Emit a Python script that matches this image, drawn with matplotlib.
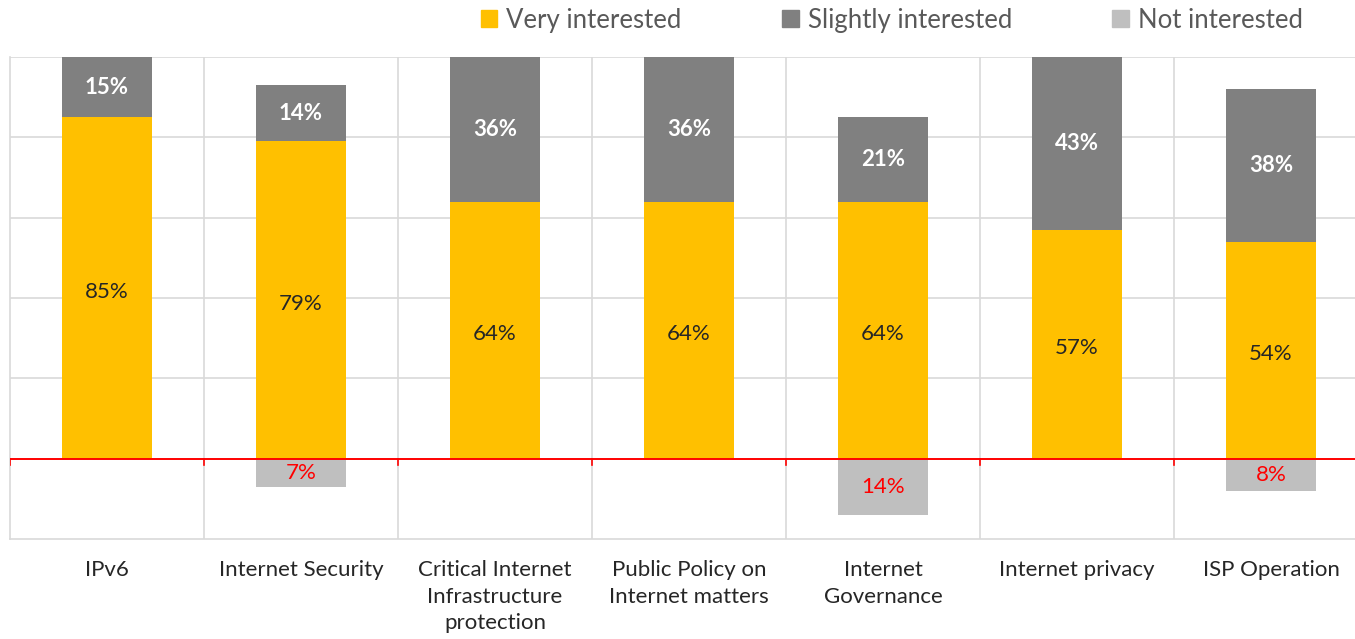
import numpy as np
import matplotlib.pyplot as plt
from matplotlib.patches import Patch

plt.rcParams['font.family'] = ['Lato', 'DejaVu Sans']

categories = ["IPv6", "Internet Security", "Critical Internet\nInfrastructure\nprotection",
              "Public Policy on\nInternet matters", "Internet\nGovernance",
              "Internet privacy", "ISP Operation"]
very = [85, 79, 64, 64, 64, 57, 54]
slightly = [15, 14, 36, 36, 21, 43, 38]
not_int = [0, 7, 0, 0, 14, 0, 8]

YELLOW = "#FFC000"
DARK = "#808080"
LIGHT = "#BFBFBF"
GRID = "#D9D9D9"

fig = plt.figure(figsize=(13.55, 6.39), dpi=100)
W, H = 1355, 639
ax = fig.add_axes([10 / W, (H - 539) / H, (W - 10) / W, (539 - 57) / H])

x = np.arange(len(categories))
width = 0.46
ax.bar(x, very, width, color=YELLOW, zorder=3)
ax.bar(x, slightly, width, bottom=very, color=DARK, zorder=3)
ax.bar(x, [-v for v in not_int], width, color=LIGHT, zorder=3)

for i in range(len(categories)):
    ax.text(x[i], very[i] / 2 - 1, f"{very[i]}%", ha="center", va="center",
            fontsize=16, color="#262626", zorder=4)
    ax.text(x[i], very[i] + slightly[i] / 2, f"{slightly[i]}%", ha="center",
            va="center", fontsize=16, color="white", fontweight="bold", zorder=4)
    if not_int[i]:
        ax.text(x[i], -not_int[i] / 2, f"{not_int[i]}%", ha="center",
                va="center", fontsize=16, color="#FF0000", zorder=4)

# 100 at the top, -20 at the bottom, last column cut by the right edge
ax.set_ylim(-20, 100)
ax.set_xlim(-0.5, 6.5 - 13 / 194)
for y in [20, 40, 60, 80, 100]:
    ax.axhline(y, color=GRID, lw=1.2, zorder=1)
for b in np.arange(0.5, 7, 1.0):
    ax.axvline(b, color=GRID, lw=1.2, zorder=1)
    ax.plot([b, b], [0, -1.6], color="#FF0000", lw=1.2, zorder=4, clip_on=False)
ax.axhline(0, color="#FF0000", lw=1.4, zorder=4)
ax.plot([-0.5, -0.5], [0, -1.6], color="#FF0000", lw=1.2, zorder=4)

for s in ["top", "right"]:
    ax.spines[s].set_visible(False)
ax.spines["left"].set_color(GRID)
ax.spines["left"].set_linewidth(1.2)
ax.spines["bottom"].set_color(GRID)
ax.spines["bottom"].set_linewidth(1.2)
ax.set_yticks([])
ax.set_xticks(x)
ax.set_xticklabels(categories, fontsize=16, color="#262626", linespacing=1.42, va="top")
ax.tick_params(axis="x", length=0, pad=15)

handles = [Patch(color=YELLOW), Patch(color=DARK), Patch(color=LIGHT)]
fig.legend(handles, ["Very interested", "Slightly interested", "Not interested"],
           loc="upper right", bbox_to_anchor=(1326 / W, 1.024), ncol=3, frameon=False,
           fontsize=18.5, labelcolor="#595959", handlelength=0.65, handleheight=0.65,
           handletextpad=0.35, columnspacing=3.9)

fig.savefig("out.png", dpi=100)
